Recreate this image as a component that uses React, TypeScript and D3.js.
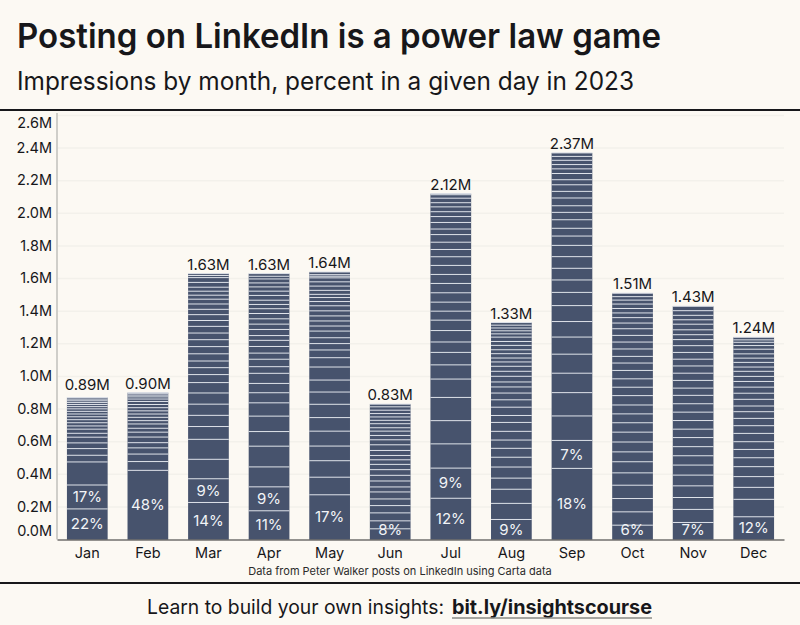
import React, { useEffect, useRef } from "react";
import * as d3 from "d3";

const months = ["Jan", "Feb", "Mar", "Apr", "May", "Jun", "Jul", "Aug", "Sep", "Oct", "Nov", "Dec"];
const totals = [0.87, 0.9, 1.63, 1.63, 1.64, 0.83, 2.12, 1.33, 2.37, 1.51, 1.43, 1.24];
const totalLabels = ["0.89M", "0.90M", "1.63M", "1.63M", "1.64M", "0.83M", "2.12M", "1.33M", "2.37M", "1.51M", "1.43M", "1.24M"];
const yTicks = [0, 0.2, 0.4, 0.6, 0.8, 1, 1.2, 1.4, 1.6, 1.8, 2, 2.2, 2.4, 2.6];

// share of the month for each day, biggest day first
const jan = [22, 17.2, 16.6, 4.8, 4.8, 4.1, 4.1, 2.8, 3, 2.3, 2.3, 2.2, 2.1, 2, 1.9, 1.8, 1.6, 1.5, 1.4, 1.3, 1.2, 1.1];
const feb = [48, 6.1, 5.2, 4.3, 3.6, 3.9, 3.4, 2.7, 3, 2.3, 2.3, 2.3, 2.2, 2.2, 2.2, 2.1, 1.7, 1.5, 1.2, 1, 0.7];
const mar = [13.9, 8.9, 7.3, 7.5, 4.8, 4.2, 4.2, 4.2, 3.9, 3, 2.6, 2.5, 2.7, 2.7, 2.6, 2.5, 2.5, 2.2, 2.2, 2, 2, 1.8, 1.5, 1.5, 1.5, 1.8, 1.8, 0.8, 0.7];
const apr = [10.8, 9, 7.5, 7.8, 5.5, 5.8, 5, 3.8, 3.5, 3.8, 2.5, 2.8, 2.3, 2.5, 2.3, 1.8, 2.3, 2, 2, 2, 1.8, 1.6, 1.6, 1.8, 1.6, 1.6, 1.5, 1.5, 1, 1];
const may = [16.8, 6.6, 6.2, 5.5, 5.6, 5.1, 5, 4.6, 4.5, 4.9, 3.5, 2.9, 2.4, 2.2, 2.5, 1.9, 1.9, 1.9, 1.9, 1.9, 1.6, 1.5, 1.2, 1.5, 1.6, 1.6, 1.5, 0.6, 0.6, 1];
const jun = [7.9, 5.9, 5.9, 5.4, 4.9, 5.2, 3.7, 4.4, 4.2, 4.2, 3.9, 3.4, 3.2, 3.7, 4.2, 3.7, 3.2, 3.2, 2.5, 3, 2.5, 2.5, 2.5, 2.5, 2.5, 2];
const jul = [11.9, 8.7, 7, 6.7, 6.7, 5.3, 4.1, 3.6, 3, 3.3, 3, 2.6, 2.6, 2.7, 2.7, 2.6, 2.6, 2.5, 2.1, 2.1, 2.2, 1.6, 1.9, 1.7, 1.4, 1.4, 1.2, 1.3, 1, 0.3];
const aug = [9.2, 7.4, 6.5, 5.1, 5.1, 4.5, 4.1, 3.8, 4, 4.1, 3.2, 3.8, 3.4, 3.1, 2.8, 2.3, 2.6, 2.3, 2.3, 2, 1.8, 2, 1.8, 2, 1.8, 2, 1.5, 1.4, 1.3, 1.3, 1.2];
const sep = [18.3, 7.2, 6.3, 6, 5, 4.9, 4.4, 4, 4.1, 3.4, 3.2, 3, 3, 2.9, 2.4, 2, 2.2, 1.9, 1.7, 2, 1.7, 1.7, 1.3, 1.6, 1.2, 1.1, 1.1, 1, 0.9];
const oct = [5.8, 5.4, 5.4, 5.4, 5, 4.5, 4, 4, 4, 3.8, 3.6, 3.6, 3.8, 3.4, 3.4, 3.4, 3, 2.7, 3, 2.8, 2.7, 2.7, 2.3, 2.2, 1.9, 1.8, 1.8, 1.6, 1.4, 1.4];
const nov = [7.3, 5.6, 5.1, 5, 4.6, 4.3, 4, 3.9, 3.9, 3.6, 3.7, 3.6, 3.6, 3.6, 3.1, 3.3, 3.1, 3.1, 2.9, 2.9, 2.9, 2.6, 2.1, 2.1, 2.4, 1.9, 1.9, 2, 1.9];
const dec = [11.2, 8.6, 5.9, 5.3, 4.9, 4.4, 4.1, 3.8, 4.1, 3.8, 3.6, 3.3, 2.8, 3.3, 3, 3, 2.8, 2.5, 2.5, 2.1, 2.3, 2.1, 2.1, 2.3, 1.8, 1.6, 1.2, 1.3];
const dayShares = [jan, feb, mar, apr, may, jun, jul, aug, sep, oct, nov, dec];

// only the biggest days carry a label
const pctLabels = [["22%", "17%"], ["48%"], ["14%", "9%"], ["11%", "9%"], ["17%"], ["8%"], ["12%", "9%"], ["9%"], ["18%", "7%"], ["6%"], ["7%"], ["12%"]];

const ink = "#17171a";
const font = "Inter, sans-serif";

const App: React.FC = () => {
  const svgRef = useRef<SVGSVGElement | null>(null);

  useEffect(() => {
    d3.select(svgRef.current).selectAll("*").remove();

    const w = 800;
    const h = 625;
    const m = { top: 115.4, right: 16, bottom: 85.5, left: 57 };

    const svg = d3
      .select(svgRef.current)
      .attr("width", w)
      .attr("height", h)
      .attr("viewBox", `0 0 ${w} ${h}`)
      .style("position", "absolute")
      .style("top", 0)
      .style("left", 0)
      .style("font-family", font);

    svg.append("rect").attr("width", w).attr("height", h).attr("fill", "#fcf9f3");

    const x = d3
      .scaleBand()
      .domain(months)
      .range([m.left, w - m.right])
      .paddingInner(0.328)
      .paddingOuter(0.164);

    const y = d3.scaleLinear().domain([0, 2.6]).range([h - m.bottom, m.top]);

    // header
    svg.append("text").attr("x", 17).attr("y", 48).attr("font-size", 34).attr("font-weight", 600)
      .attr("fill", ink).attr("textLength", 644).attr("lengthAdjust", "spacingAndGlyphs")
      .text("Posting on LinkedIn is a power law game");
    svg.append("text").attr("x", 17).attr("y", 90).attr("font-size", 25).attr("font-weight", 400)
      .attr("fill", ink).attr("textLength", 617).attr("lengthAdjust", "spacingAndGlyphs")
      .text("Impressions by month, percent in a given day in 2023");
    svg.append("line").attr("x1", 0).attr("x2", w).attr("y1", 110).attr("y2", 110).attr("stroke", ink).attr("stroke-width", 2);

    // gridlines
    svg.append("g")
      .selectAll("line")
      .data(yTicks.slice(1))
      .enter()
      .append("line")
      .attr("x1", m.left)
      .attr("x2", w - m.right)
      .attr("y1", d => y(d))
      .attr("y2", d => y(d))
      .attr("stroke", "#f3f1eb")
      .attr("stroke-width", 1.5);

    // y axis, first and last labels are pushed inwards
    const yAxis = svg.append("g")
      .attr("transform", `translate(${m.left}, 0)`)
      .call(d3.axisLeft(y).tickValues(yTicks).tickSize(0).tickPadding(5).tickFormat(d => `${(+d).toFixed(1)}M`));
    yAxis.select(".domain").remove();
    yAxis.selectAll<SVGGElement, number>(".tick")
      .attr("transform", d => `translate(0, ${Math.max(123, Math.min(531, y(d)))})`);
    yAxis.selectAll("text").attr("font-size", 14.5).attr("font-family", font).attr("fill", ink);

    svg.append("line").attr("x1", m.left).attr("x2", m.left).attr("y1", 113).attr("y2", y(0))
      .attr("stroke", "#cfcec9").attr("stroke-width", 2);

    // bars
    const bars = svg.selectAll(".month")
      .data(months)
      .enter()
      .append("g")
      .attr("class", "month");

    bars.append("rect")
      .attr("x", d => x(d)!)
      .attr("width", x.bandwidth())
      .attr("y", (_, i) => y(totals[i]))
      .attr("height", (_, i) => y(0) - y(totals[i]))
      .attr("fill", "#47536d");

    bars.each(function (month, i) {
      const shares = dayShares[i];
      const sum = d3.sum(shares);
      const tops = Array.from(d3.cumsum(shares), c => y((c / sum) * totals[i]));
      const g = d3.select(this);

      g.selectAll("line")
        .data(tops)
        .enter()
        .append("line")
        .attr("x1", x(month)!)
        .attr("x2", x(month)! + x.bandwidth())
        .attr("y1", d => d)
        .attr("y2", d => d)
        .attr("stroke", "#dfe3ea")
        .attr("stroke-width", 1);

      g.selectAll(".pct")
        .data(pctLabels[i])
        .enter()
        .append("text")
        .attr("class", "pct")
        .attr("x", x(month)! + x.bandwidth() / 2)
        .attr("y", (_, j) => {
          const bottom = j === 0 ? y(0) : tops[j - 1];
          return Math.min((bottom + tops[j]) / 2, y(0) - 10);
        })
        .attr("dy", "0.35em")
        .attr("text-anchor", "middle")
        .attr("font-size", 15)
        .attr("fill", "#f2f4f7")
        .text(d => d);

      g.append("text")
        .attr("x", x(month)! + x.bandwidth() / 2)
        .attr("y", y(d3.max([totals[i], +totalLabels[i].slice(0, -1)])!) - 4)
        .attr("text-anchor", "middle")
        .attr("font-size", 15)
        .attr("fill", ink)
        .text(totalLabels[i]);
    });

    // x axis
    const xAxis = svg.append("g")
      .attr("transform", `translate(0, ${y(0)})`)
      .call(d3.axisBottom(x).tickSize(0).tickPadding(8));
    xAxis.select(".domain").attr("stroke", "#2b2b2b").attr("stroke-width", 1);
    xAxis.selectAll("text").attr("font-size", 14.5).attr("font-family", font).attr("fill", ink);

    // footer
    svg.append("text").attr("x", 400).attr("y", 575).attr("text-anchor", "middle").attr("font-size", 11)
      .attr("fill", "#2b2b2b").text("Data from Peter Walker posts on LinkedIn using Carta data");
    svg.append("line").attr("x1", 0).attr("x2", w).attr("y1", 583).attr("y2", 583).attr("stroke", ink).attr("stroke-width", 2);
    svg.append("text").attr("x", 147).attr("y", 614).attr("font-size", 20).attr("fill", ink)
      .attr("textLength", 297).attr("lengthAdjust", "spacingAndGlyphs")
      .text("Learn to build your own insights:");
    svg.append("text").attr("x", 452).attr("y", 614).attr("font-size", 20).attr("font-weight", 700).attr("fill", ink)
      .attr("textLength", 200).attr("lengthAdjust", "spacingAndGlyphs")
      .text("bit.ly/insightscourse");
    svg.append("line").attr("x1", 452).attr("x2", 652).attr("y1", 618).attr("y2", 618).attr("stroke", "#8a8a86").attr("stroke-width", 1.5);
  }, []);

  return <svg ref={svgRef}></svg>;
};

export default App;
